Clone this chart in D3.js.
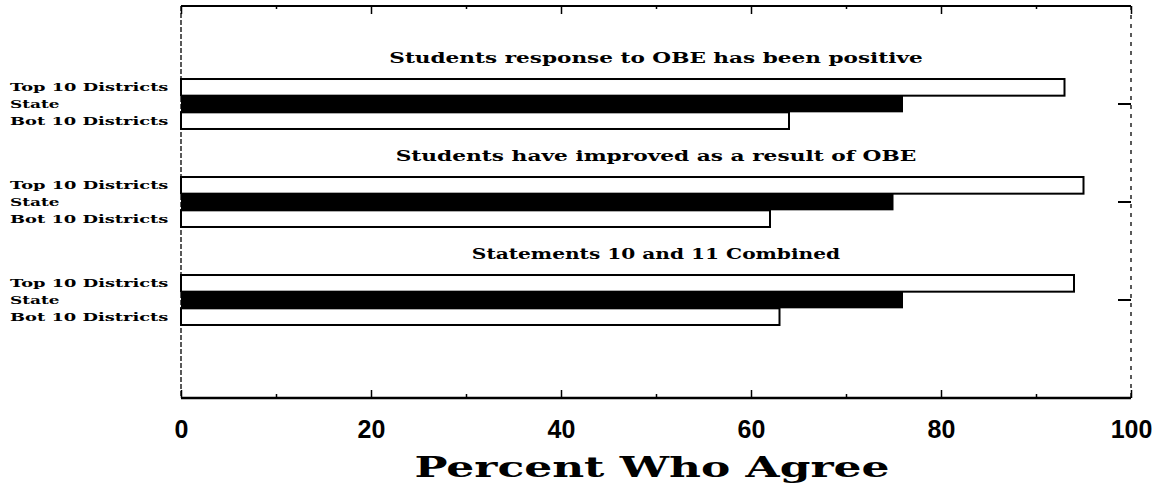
<!DOCTYPE html>
<html lang="en">
<head>
    <meta charset="utf-8" />
    <script src="https://d3js.org/d3.v7.min.js"></script>
    <style>
        body { margin: 0; background: #fff; }
        text { fill: #000; }
        .lbl { font-family: "DejaVu Serif", serif; font-weight: bold; }
        .tick text { font-family: "Liberation Sans", Arial, sans-serif; font-weight: bold; font-size: 25px; }
    </style>
</head>
<body>
<script>
    // data
    var statements = [
        "Students response to OBE has been positive",
        "Students have improved as a result of OBE",
        "Statements 10 and 11 Combined"
    ];
    var seriesNames = ["Top 10 Districts", "State", "Bot 10 Districts"];
    var top10 = [93, 95, 94];
    var state = [76, 75, 76];
    var bot10 = [64, 62, 63];
    var majorTicks = [0, 20, 40, 60, 80, 100];
    var minorTicks = [10, 30, 50, 70, 90];
    var xTitle = "Percent Who Agree";

    var width = 1163, height = 483;
    var plotLeft = 181, plotRight = 1131, plotTop = 6, plotBottom = 398;

    var rows = statements.map(function (s, i) {
        return { statement: s, values: [top10[i], state[i], bot10[i]] };
    });

    var svg = d3.select("body").append("svg")
        .attr("width", width)
        .attr("height", height)
        .style("background", "#fff");

    var x = d3.scaleLinear().domain([0, 100]).range([plotLeft, plotRight]);

    // 3 statement groups, evenly spread down the frame
    var y = d3.scaleBand().domain(statements).range([plotTop, plotBottom])
        .paddingInner(0.49).paddingOuter(0.745);

    var yIn = d3.scaleBand().domain(seriesNames).range([0, y.bandwidth()]);

    // bottom axis: long ticks every 20 with labels, short ticks between
    svg.append("g")
        .attr("transform", "translate(0," + plotBottom + ")")
        .call(d3.axisBottom(x).tickValues(majorTicks).tickSize(-8).tickPadding(22).tickFormat(d3.format("d")))
        .call(function (g) { g.select(".domain").remove(); });
    svg.append("g")
        .attr("transform", "translate(0," + plotBottom + ")")
        .call(d3.axisBottom(x).tickValues(minorTicks).tickSize(-4).tickFormat(""))
        .call(function (g) { g.select(".domain").remove(); });

    // top axis, ticks pointing down
    svg.append("g")
        .attr("transform", "translate(0," + plotTop + ")")
        .call(d3.axisTop(x).tickValues(majorTicks).tickSize(-8).tickFormat(""))
        .call(function (g) { g.select(".domain").remove(); });
    svg.append("g")
        .attr("transform", "translate(0," + plotTop + ")")
        .call(d3.axisTop(x).tickValues(minorTicks).tickSize(-3).tickFormat(""))
        .call(function (g) { g.select(".domain").remove(); });

    svg.selectAll(".tick line").attr("stroke", "#000").attr("stroke-width", 1.5);

    // frame
    svg.append("line").attr("x1", plotLeft).attr("x2", plotRight).attr("y1", plotTop).attr("y2", plotTop)
        .attr("stroke", "#000").attr("stroke-width", 2);
    svg.append("line").attr("x1", plotLeft).attr("x2", plotRight).attr("y1", plotBottom).attr("y2", plotBottom)
        .attr("stroke", "#000").attr("stroke-width", 2.5);
    svg.append("line").attr("x1", plotLeft).attr("x2", plotLeft).attr("y1", plotTop).attr("y2", plotBottom)
        .attr("stroke", "#000").attr("stroke-width", 1.3).attr("stroke-dasharray", "5,2");
    svg.append("line").attr("x1", plotRight).attr("x2", plotRight).attr("y1", plotTop).attr("y2", plotBottom)
        .attr("stroke", "#000").attr("stroke-width", 1.3).attr("stroke-dasharray", "4,5");

    var grp = svg.selectAll(".grp")
        .data(rows)
        .join("g")
        .attr("class", "grp")
        .attr("transform", function (d) { return "translate(0," + y(d.statement) + ")"; });

    // group title
    grp.append("text")
        .attr("class", "lbl")
        .attr("x", (plotLeft + plotRight) / 2)
        .attr("y", -16)
        .attr("text-anchor", "middle")
        .attr("font-size", 15)
        .attr("textLength", function (d) { return d.statement.length * 12.7; })
        .attr("lengthAdjust", "spacingAndGlyphs")
        .text(function (d) { return d.statement; });

    // bars
    grp.selectAll("rect")
        .data(function (d) {
            return d.values.map(function (v, i) { return { name: seriesNames[i], value: v }; });
        })
        .join("rect")
        .attr("x", x(0))
        .attr("y", function (d) { return yIn(d.name); })
        .attr("width", function (d) { return x(d.value) - x(0); })
        .attr("height", yIn.bandwidth())
        .attr("fill", function (d) { return d.name === "State" ? "#000" : "#fff"; })
        .attr("stroke", "#000")
        .attr("stroke-width", function (d) { return d.name === "State" ? 0 : 2; });

    // series labels on the left
    grp.selectAll(".slbl")
        .data(seriesNames)
        .join("text")
        .attr("class", "lbl slbl")
        .attr("x", 10)
        .attr("y", function (d) { return yIn(d) + yIn.bandwidth() / 2; })
        .attr("dy", "0.35em")
        .attr("font-size", 11.5)
        .attr("textLength", function (d) { return d.length * 9.9; })
        .attr("lengthAdjust", "spacingAndGlyphs")
        .text(function (d) { return d; });

    // small ticks on the right frame at the State bars
    grp.append("line")
        .attr("x1", plotRight - 13).attr("x2", plotRight)
        .attr("y1", yIn("State") + yIn.bandwidth() / 2)
        .attr("y2", yIn("State") + yIn.bandwidth() / 2)
        .attr("stroke", "#000").attr("stroke-width", 2);

    // x axis title
    svg.append("text")
        .attr("class", "lbl")
        .attr("x", 652)
        .attr("y", 477)
        .attr("text-anchor", "middle")
        .attr("font-size", 27)
        .attr("textLength", 475)
        .attr("lengthAdjust", "spacingAndGlyphs")
        .text(xTitle);
</script>
</body>
</html>
